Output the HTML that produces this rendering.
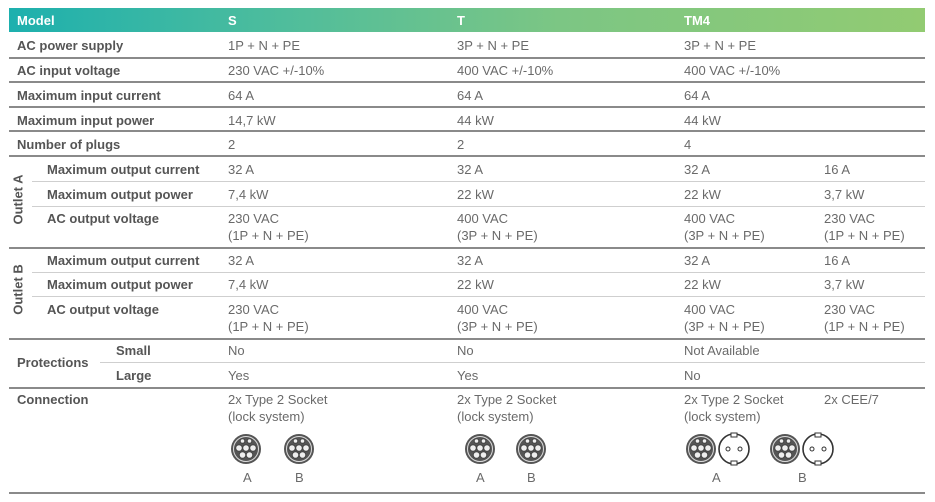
<!DOCTYPE html>
<html><head><meta charset="utf-8"><style>
body{margin:0;width:935px;height:502px;background:#fff;position:relative;overflow:hidden;font-family:"Liberation Sans",Arial,sans-serif}
.t{position:absolute;font-size:13px;color:#6a6a6a;white-space:nowrap;line-height:17px}
.b{font-weight:bold;color:#555}
.h{font-weight:bold;color:#fff;font-size:13px}
.l{position:absolute;height:2px;background:#8a8a8a}
.s{position:absolute;height:1px;background:#cfcfcf}
.rot{position:absolute;transform:rotate(-90deg);transform-origin:center;font-weight:bold;color:#555;font-size:13px;width:70px;text-align:center}
</style></head><body>
<div style="position:absolute;left:9px;top:8px;width:916px;height:24px;background:linear-gradient(90deg,#1db0ae 0%,#4fbd9c 30%,#7cc684 60%,#92cb72 100%)"></div>
<div class="t h" style="left:17px;top:12px">Model</div>
<div class="t h" style="left:228px;top:12px">S</div>
<div class="t h" style="left:457px;top:12px">T</div>
<div class="t h" style="left:684px;top:12px">TM4</div>

<div class="t b" style="left:17px;top:37px">AC power supply</div>
<div class="t" style="left:228px;top:37px">1P + N + PE</div><div class="t" style="left:457px;top:37px">3P + N + PE</div><div class="t" style="left:684px;top:37px">3P + N + PE</div>
<div class="l" style="left:9px;top:57px;width:916px"></div>
<div class="t b" style="left:17px;top:62px">AC input voltage</div>
<div class="t" style="left:228px;top:62px">230 VAC +/-10%</div><div class="t" style="left:457px;top:62px">400 VAC +/-10%</div><div class="t" style="left:684px;top:62px">400 VAC +/-10%</div>
<div class="l" style="left:9px;top:81px;width:916px"></div>
<div class="t b" style="left:17px;top:87px">Maximum input current</div>
<div class="t" style="left:228px;top:87px">64 A</div><div class="t" style="left:457px;top:87px">64 A</div><div class="t" style="left:684px;top:87px">64 A</div>
<div class="l" style="left:9px;top:106px;width:916px"></div>
<div class="t b" style="left:17px;top:112px">Maximum input power</div>
<div class="t" style="left:228px;top:112px">14,7 kW</div><div class="t" style="left:457px;top:112px">44 kW</div><div class="t" style="left:684px;top:112px">44 kW</div>
<div class="l" style="left:9px;top:130px;width:916px"></div>
<div class="t b" style="left:17px;top:136px">Number of plugs</div>
<div class="t" style="left:228px;top:136px">2</div><div class="t" style="left:457px;top:136px">2</div><div class="t" style="left:684px;top:136px">4</div>
<div class="l" style="left:9px;top:155px;width:916px"></div>

<div class="rot" style="left:-17px;top:192px">Outlet A</div>
<div class="t b" style="left:47px;top:161px">Maximum output current</div>
<div class="t" style="left:228px;top:161px">32 A</div><div class="t" style="left:457px;top:161px">32 A</div><div class="t" style="left:684px;top:161px">32 A</div><div class="t" style="left:824px;top:161px">16 A</div>
<div class="s" style="left:32px;top:181px;width:893px"></div>
<div class="t b" style="left:47px;top:186px">Maximum output power</div>
<div class="t" style="left:228px;top:186px">7,4 kW</div><div class="t" style="left:457px;top:186px">22 kW</div><div class="t" style="left:684px;top:186px">22 kW</div><div class="t" style="left:824px;top:186px">3,7 kW</div>
<div class="s" style="left:32px;top:206px;width:893px"></div>
<div class="t b" style="left:47px;top:210px">AC output voltage</div>
<div class="t" style="left:228px;top:210px">230 VAC<br>(1P + N + PE)</div><div class="t" style="left:457px;top:210px">400 VAC<br>(3P + N + PE)</div><div class="t" style="left:684px;top:210px">400 VAC<br>(3P + N + PE)</div><div class="t" style="left:824px;top:210px">230 VAC<br>(1P + N + PE)</div>
<div class="l" style="left:9px;top:247px;width:916px"></div>

<div class="rot" style="left:-17px;top:282px">Outlet B</div>
<div class="t b" style="left:47px;top:252px">Maximum output current</div>
<div class="t" style="left:228px;top:252px">32 A</div><div class="t" style="left:457px;top:252px">32 A</div><div class="t" style="left:684px;top:252px">32 A</div><div class="t" style="left:824px;top:252px">16 A</div>
<div class="s" style="left:32px;top:272px;width:893px"></div>
<div class="t b" style="left:47px;top:276px">Maximum output power</div>
<div class="t" style="left:228px;top:276px">7,4 kW</div><div class="t" style="left:457px;top:276px">22 kW</div><div class="t" style="left:684px;top:276px">22 kW</div><div class="t" style="left:824px;top:276px">3,7 kW</div>
<div class="s" style="left:32px;top:296px;width:893px"></div>
<div class="t b" style="left:47px;top:301px">AC output voltage</div>
<div class="t" style="left:228px;top:301px">230 VAC<br>(1P + N + PE)</div><div class="t" style="left:457px;top:301px">400 VAC<br>(3P + N + PE)</div><div class="t" style="left:684px;top:301px">400 VAC<br>(3P + N + PE)</div><div class="t" style="left:824px;top:301px">230 VAC<br>(1P + N + PE)</div>
<div class="l" style="left:9px;top:338px;width:916px"></div>

<div class="t b" style="left:17px;top:354px">Protections</div>
<div class="t b" style="left:116px;top:342px">Small</div>
<div class="t" style="left:228px;top:342px">No</div><div class="t" style="left:457px;top:342px">No</div><div class="t" style="left:684px;top:342px">Not Available</div>
<div class="s" style="left:100px;top:362px;width:825px"></div>
<div class="t b" style="left:116px;top:367px">Large</div>
<div class="t" style="left:228px;top:367px">Yes</div><div class="t" style="left:457px;top:367px">Yes</div><div class="t" style="left:684px;top:367px">No</div>
<div class="l" style="left:9px;top:387px;width:916px"></div>

<div class="t b" style="left:17px;top:391px">Connection</div>
<div class="t" style="left:228px;top:391px">2x Type 2 Socket<br>(lock system)</div>
<div class="t" style="left:457px;top:391px">2x Type 2 Socket<br>(lock system)</div>
<div class="t" style="left:684px;top:391px">2x Type 2 Socket<br>(lock system)</div>
<div class="t" style="left:824px;top:391px">2x CEE/7</div>

<svg width="935" height="502" style="position:absolute;left:0;top:0">
<defs>
<g id="t2"><circle r="15" fill="#555"/><circle r="12.5" fill="none" stroke="#ddd" stroke-width="1"/>
<g fill="#eee" stroke="#444" stroke-width="1"><circle cx="-3.5" cy="-8" r="2.3"/><circle cx="3.5" cy="-8" r="2.3"/><circle cx="-7" cy="-1" r="3.3"/><circle cx="0" cy="-1" r="3.3"/><circle cx="7" cy="-1" r="3.3"/><circle cx="-3.5" cy="6" r="3.3"/><circle cx="3.5" cy="6" r="3.3"/></g></g>
<g id="cee"><circle r="15" fill="#fff" stroke="#333" stroke-width="1.6"/><rect x="-3" y="-16" width="6" height="4" fill="#fff" stroke="#333"/><rect x="-3" y="12" width="6" height="4" fill="#fff" stroke="#333"/><circle cx="-6" cy="0" r="2" fill="none" stroke="#333"/><circle cx="6" cy="0" r="2" fill="none" stroke="#333"/></g>
</defs>
<use href="#t2" x="246" y="449"/><use href="#t2" x="299" y="449"/>
<use href="#t2" x="480" y="449"/><use href="#t2" x="531" y="449"/>
<use href="#t2" x="701" y="449"/><use href="#cee" x="734" y="449"/>
<use href="#t2" x="785" y="449"/><use href="#cee" x="818" y="449"/>
</svg>
<div class="t" style="left:243px;top:469px">A</div><div class="t" style="left:295px;top:469px">B</div>
<div class="t" style="left:476px;top:469px">A</div><div class="t" style="left:527px;top:469px">B</div>
<div class="t" style="left:712px;top:469px">A</div><div class="t" style="left:798px;top:469px">B</div>
<div class="l" style="left:9px;top:492px;width:916px"></div>
</body></html>
